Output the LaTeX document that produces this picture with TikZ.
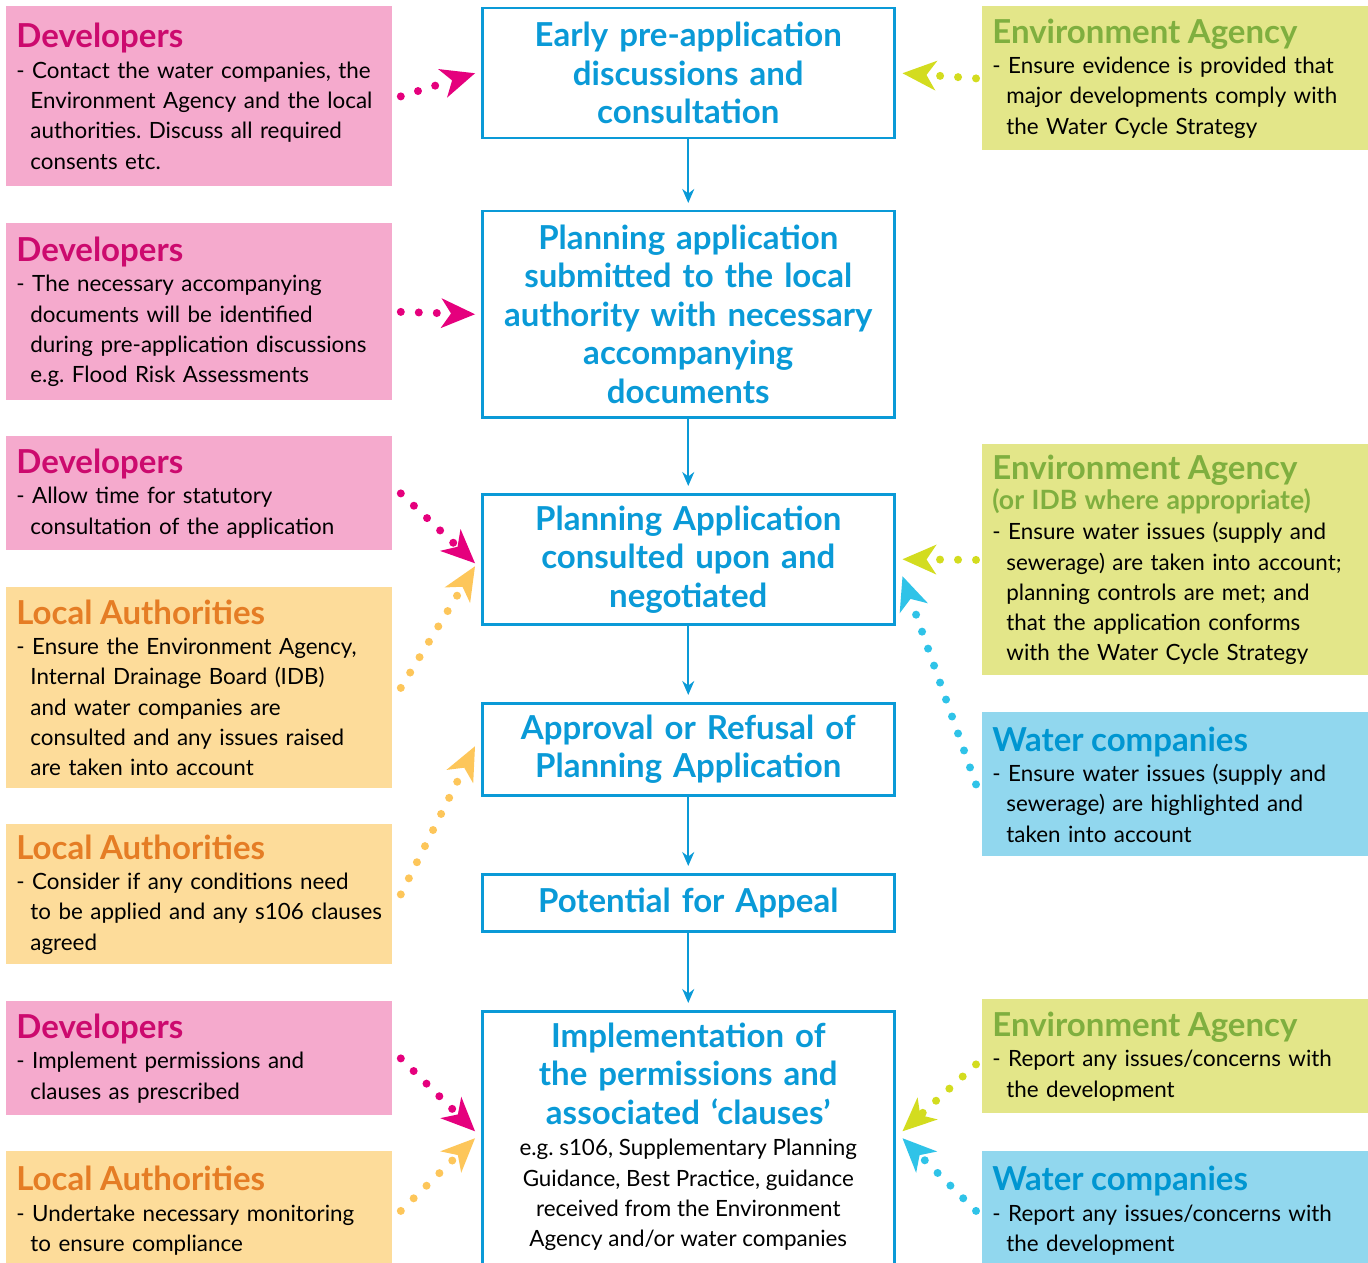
\documentclass[tikz,border=0pt]{standalone}
\usepackage{fontspec}
\setmainfont{Lato}
\usetikzlibrary{arrows.meta}
\frenchspacing

\definecolor{devfill}{HTML}{F5AACD}
\definecolor{devtitle}{HTML}{CC0A6E}
\definecolor{devarrow}{HTML}{E5007D}
\definecolor{lafill}{HTML}{FDDC9A}
\definecolor{latitle}{HTML}{E57D25}
\definecolor{laarrow}{HTML}{FDC65A}
\definecolor{eafill}{HTML}{E3E689}
\definecolor{eatitle}{HTML}{7FAF3F}
\definecolor{eaarrow}{HTML}{D3DC1F}
\definecolor{wcfill}{HTML}{91D7EE}
\definecolor{wctitle}{HTML}{0096D1}
\definecolor{wcarrow}{HTML}{2FC3E8}
\definecolor{flow}{HTML}{0A9AD7}

\newcommand{\indt}{\hspace*{7pt}}
\newcommand{\head}[2]{{\fontsize{16.5}{15}\selectfont\bfseries\color{#1}#2}\\}

\tikzset{
  side/.style={anchor=north west, minimum width=193pt, text width=183pt,
    inner xsep=5pt, inner ysep=0pt, align=left,
    font=\fontsize{11.2}{15.15}\selectfont},
  stage/.style={anchor=north west, draw=flow, line width=1.25pt, text=flow,
    minimum width=206pt, text width=198pt, inner xsep=4pt, inner ysep=0pt,
    align=center, font=\fontsize{16.5}{19.25}\selectfont\bfseries},
  flowline/.style={draw=flow, line width=1pt, shorten >=3.5pt,
    -{Stealth[length=7pt,width=6pt]}},
  dots/.style={line width=4pt, line cap=round, dash pattern=on 0pt off 9pt,
    -{Stealth[length=17pt,width=15pt,inset=5pt,line width=0pt]}}
}

\begin{document}
\begin{tikzpicture}[x=0.5pt,y=-0.5pt]

  \useasboundingbox (0,0) rectangle (1368,1262);

  \begin{scope}
    \clip (0,0) rectangle (1368,1262);

    % stages of the process
    \begin{scope}[every node/.style={stage}]
      \node[minimum height=65pt]  (1) at (481,7)    {Early pre-application\\discussions and\\consultation};
      \node[minimum height=103pt] (2) at (481,210)  {Planning application\\submitted to the local\\authority with necessary\\accompanying\\documents};
      \node[minimum height=65pt]  (3) at (481,493)  {Planning Application\\consulted upon and\\negotiated};
      \node[minimum height=46pt]  (4) at (481,702)  {Approval or Refusal of\\Planning Application};
      \node[minimum height=28.5pt] (5) at (481,873) {Potential for Appeal};
      \node[minimum height=128pt] (6) at (481,1010) {Implementation of\\the permissions and\\associated ‘clauses’\\[-3.5pt]
        {\fontsize{11.2}{15.15}\selectfont\mdseries\color{black}\spaceskip=0pt\xspaceskip=0pt%
        \begin{tabular}[t]{@{}c@{}}e.g. s106, Supplementary Planning\\Guidance, Best Practice, guidance\\received from the Environment\\Agency and/or water companies\end{tabular}}};
    \end{scope}

    % developers and local authorities
    \begin{scope}[every node/.style={side}]
      \node[fill=devfill, minimum height=90pt] (d1) at (6,6) {\head{devtitle}{Developers}
        - Contact the water companies, the\\\indt Environment Agency and the local\\\indt authorities. Discuss all required\\\indt consents etc.};
      \node[fill=devfill, minimum height=88.5pt] (d2) at (6,223) {\head{devtitle}{Developers}
        - The necessary accompanying\\\indt documents will be identified\\\indt during pre-application discussions\\\indt e.g. Flood Risk Assessments};
      \node[fill=devfill, minimum height=57pt] (d3) at (6,436) {\head{devtitle}{Developers}
        - Allow time for statutory\\\indt consultation of the application};
      \node[fill=lafill, minimum height=100.5pt] (la1) at (6,587) {\head{latitle}{Local Authorities}
        - Ensure the Environment Agency,\\\indt Internal Drainage Board (IDB)\\\indt and water companies are\\\indt consulted and any issues raised\\\indt are taken into account};
      \node[fill=lafill, minimum height=70pt] (la2) at (6,824) {\head{latitle}{Local Authorities}
        - Consider if any conditions need\\\indt \mbox{to be applied and any s106 clauses}\\\indt agreed};
      \node[fill=devfill, minimum height=57pt] (d4) at (6,1001) {\head{devtitle}{Developers}
        - Implement permissions and\\\indt clauses as prescribed};
      \node[fill=lafill, minimum height=59.5pt] (la3) at (6,1151) {\head{latitle}{Local Authorities}
        - Undertake necessary monitoring\\\indt to ensure compliance};
    \end{scope}

    % environment agency and water companies
    \begin{scope}[every node/.style={side}]
      \node[fill=eafill, minimum height=72pt] (ea1) at (982,6) {\head{eatitle}{Environment Agency}
        - Ensure evidence is provided that\\\indt major developments comply with\\\indt the Water Cycle Strategy};
      \node[fill=eafill, minimum height=115.5pt] (ea2) at (982,444) {\head{eatitle}{Environment Agency}
        {\fontsize{13.3}{14}\selectfont\bfseries\color{eatitle}(or IDB where appropriate)}\\
        - Ensure water issues (supply and\\\indt \mbox{sewerage) are taken into account;}\\\indt planning controls are met; and\\\indt that the application conforms\\\indt with the Water Cycle Strategy};
      \node[fill=wcfill, minimum height=72pt] (wc1) at (982,712) {\head{wctitle}{Water companies}
        - Ensure water issues (supply and\\\indt sewerage) are highlighted and\\\indt taken into account};
      \node[fill=eafill, minimum height=57pt] (ea3) at (982,999) {\head{eatitle}{Environment Agency}
        - Report any issues/concerns with\\\indt the development};
      \node[fill=wcfill, minimum height=59.5pt] (wc2) at (982,1151) {\head{wctitle}{Water companies}
        - Report any issues/concerns with\\\indt the development};
    \end{scope}

    % main flow
    \draw[flowline] (1) -- (2);
    \draw[flowline] (2) -- (3);
    \draw[flowline] (3) -- (4);
    \draw[flowline] (4) -- (5);
    \draw[flowline] (5) -- (6);

    % dotted links
    \draw[dots, devarrow] ([xshift=4pt]d1.east) -- ([xshift=-3pt]1.west);
    \draw[dots, devarrow] ([xshift=4pt]d2.east) -- ([xshift=-3pt]2.west);
    \draw[dots, devarrow] ([xshift=4pt]d3.east) -- ([xshift=-3pt,yshift=-2pt]3.west);
    \draw[dots, laarrow] ([xshift=4pt]la1.east) -- ([xshift=-3pt,yshift=-3.5pt]3.west);
    \draw[dots, laarrow] ([xshift=4pt]la2.east) -- ([xshift=-3pt,yshift=1.5pt]4.west);
    \draw[dots, devarrow] ([xshift=4pt]d4.east) -- ([xshift=-3pt,yshift=4pt]6.west);
    \draw[dots, laarrow] ([xshift=4pt]la3.east) -- ([xshift=-3pt,yshift=0.5pt]6.west);

    \draw[dots, eaarrow] ([xshift=-3pt]ea1.west) -- ([xshift=3.5pt]1.east);
    \draw[dots, eaarrow] ([xshift=-3pt]ea2.west) -- ([xshift=3.5pt]3.east);
    \draw[dots, wcarrow] ([xshift=-3pt]wc1.west) -- ([xshift=3.5pt,yshift=-8.5pt]3.east);
    \draw[dots, eaarrow] ([xshift=-3pt,yshift=-4pt]ea3.west) -- ([xshift=3.5pt,yshift=4pt]6.east);
    \draw[dots, wcarrow] ([xshift=-3pt]wc2.west) -- ([xshift=3.5pt,yshift=0.5pt]6.east);
  \end{scope}

\end{tikzpicture}
\end{document}
